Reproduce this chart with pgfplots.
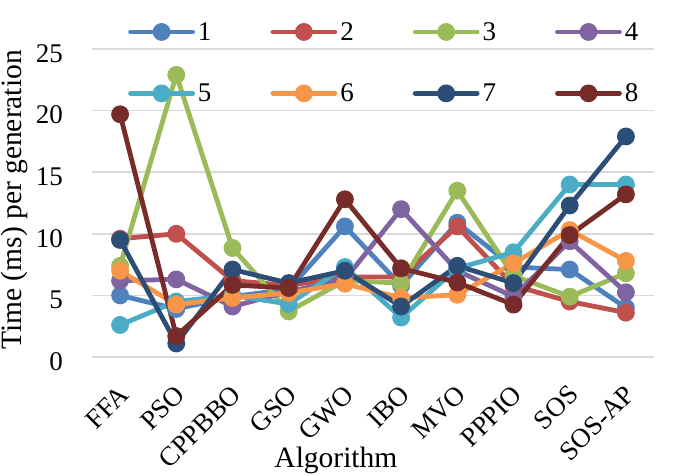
\documentclass[border=0pt]{standalone}
\usepackage{pgfplots}
\pgfplotsset{compat=1.18}
\usepackage{pgfplotstable}
\usepackage{fontspec}
\setmainfont{Liberation Serif}
\definecolor{c1}{HTML}{4F81BD}
\definecolor{c2}{HTML}{C0504D}
\definecolor{c3}{HTML}{9BBB59}
\definecolor{c4}{HTML}{8064A2}
\definecolor{c5}{HTML}{4BACC6}
\definecolor{c6}{HTML}{F79646}
\definecolor{c7}{HTML}{2C4D75}
\definecolor{c8}{HTML}{772C2A}
\definecolor{gridc}{HTML}{D9D9D9}
\pgfplotstableread{
x s1 s2 s3 s4 s5 s6 s7 s8
0 5.0 9.6 7.4 6.2 2.6 7.0 9.5 19.7
1 3.9 10.0 22.9 6.3 4.5 4.25 1.1 1.7
2 4.9 6.2 8.85 4.1 5.0 4.8 7.1 5.85
3 5.5 5.8 3.7 5.3 4.3 5.2 6.0 5.6
4 10.6 6.5 6.2 6.3 7.3 5.95 7.0 12.8
5 5.8 6.5 6.0 12.0 3.2 4.8 4.1 7.2
6 10.9 10.6 13.5 7.0 7.2 5.05 7.4 6.05
7 7.3 5.8 6.6 4.9 8.5 7.6 6.0 4.25
8 7.1 4.5 4.9 9.4 14.0 10.3 12.3 9.9
9 4.0 3.6 6.8 5.25 14.0 7.8 17.9 13.2
}\datatable
\begin{document}
\begin{tikzpicture}
\begin{axis}[
  scale only axis,
  width=562pt, height=308pt,
  xmin=-0.5, xmax=9.5,
  ymin=0, ymax=25,
  ytick={0,5,...,25},
  xtick={0,...,9},
  xticklabels={FFA,PSO,CPPBBO,GSO,GWO,IBO,MVO,PPPIO,SOS,SOS-AP},
  axis line style={draw=none},
  major tick length=0pt,
  ymajorgrids,
  grid style={gridc, line width=1.6pt},
  clip=false,
  /pgf/number format/assume math mode=true,
  tick label style={font=\fontsize{27}{32}\selectfont},
  yticklabel style={anchor=east, inner sep=0pt, xshift=-29pt, yshift=-4.5pt},
  xticklabel style={xshift=4pt, yshift=-33pt, rotate=45, anchor=east, inner sep=0pt},
  xlabel={Algorithm},
  ylabel={Time (ms) per generation},
  label style={font=\fontsize{29.5}{34}\selectfont},
  xlabel style={at={(rel axis cs:0.434,0)}, anchor=center, yshift=-103pt, inner sep=0pt},
  ylabel style={at={(rel axis cs:0,0.51)}, anchor=center, yshift=78pt, inner sep=0pt},
  legend columns=4,
  legend style={draw=none, fill=none, at={(rel axis cs:0.0587,1.094)}, anchor=north west,
    font=\fontsize{27}{32}\selectfont, nodes={inner sep=0pt}, row sep=42pt,
    /tikz/every odd column/.append style={column sep=3pt},
    /tikz/every even column/.append style={column sep=59pt}},
  legend image code/.code={\draw[mark repeat=2,mark phase=2,#1] plot coordinates {(0pt,0pt) (31pt,0pt) (62pt,0pt)};},
  every axis plot/.append style={line width=4.8pt, line cap=round, line join=round, mark=*, mark size=6.5pt, mark options={solid}},
]
\addplot[c1, mark options={fill=c1}] table[x=x,y=s1]{\datatable};
\addplot[c2, mark options={fill=c2}] table[x=x,y=s2]{\datatable};
\addplot[c3, mark options={fill=c3}] table[x=x,y=s3]{\datatable};
\addplot[c4, mark options={fill=c4}] table[x=x,y=s4]{\datatable};
\addplot[c5, mark options={fill=c5}] table[x=x,y=s5]{\datatable};
\addplot[c6, mark options={fill=c6}] table[x=x,y=s6]{\datatable};
\addplot[c7, mark options={fill=c7}] table[x=x,y=s7]{\datatable};
\addplot[c8, mark options={fill=c8}] table[x=x,y=s8]{\datatable};
\legend{1,2,3,4,5,6,7,8}
\coordinate (bl) at (rel axis cs:0,0);
\coordinate (tr) at (rel axis cs:1,1);
\end{axis}
\path (bl) ++(-92pt,-119pt) coordinate (A);
\path (tr) ++(31pt,49pt) coordinate (B);
\pgfresetboundingbox
\useasboundingbox (A) rectangle (B);
\end{tikzpicture}
\end{document}
